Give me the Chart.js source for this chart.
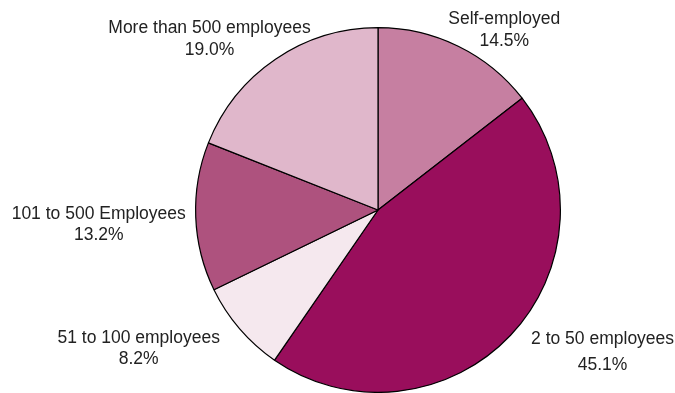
<!DOCTYPE html>
<html>
<head>
<meta charset="utf-8">
<script src="https://cdn.jsdelivr.net/npm/chart.js@4/dist/chart.umd.min.js"></script>
<style>
html,body{margin:0;padding:0;background:#fff;}
#wrap{width:675px;height:393px;position:relative;}
</style>
</head>
<body>
<div id="wrap"><canvas id="c" width="675" height="393"></canvas></div>
<script>
const categories = ["Self-employed", "2 to 50 employees", "51 to 100 employees", "101 to 500 Employees", "More than 500 employees"];
const shares = [14.5, 45.1, 8.2, 13.2, 19.0];
const valueLabels = ["14.5%", "45.1%", "8.2%", "13.2%", "19.0%"];
const sliceColors = ["#C67FA1", "#990E5C", "#F5E8EE", "#AE527E", "#E0B7CB"];

// label offsets (px) from the point on the slice rim at the slice's mid angle
const labelOffsets = [[46, -16], [92, 17], [-101, 20], [-97, 8], [-66, -20]];
const secondLineGap = [22, 26, 21, 21, 22];

const outsideLabels = {
  id: 'outsideLabels',
  afterDatasetsDraw(chart) {
    const ctx = chart.ctx;
    const meta = chart.getDatasetMeta(0);
    ctx.save();
    ctx.fillStyle = '#222';
    ctx.font = '17.5px "Liberation Sans", Arial, sans-serif';
    ctx.textAlign = 'center';
    ctx.textBaseline = 'middle';
    meta.data.forEach((arc, i) => {
      const p = arc.getProps(['x', 'y', 'startAngle', 'endAngle', 'outerRadius'], true);
      const mid = (p.startAngle + p.endAngle) / 2;
      const rx = p.x + Math.cos(mid) * p.outerRadius;
      const ry = p.y + Math.sin(mid) * p.outerRadius;
      const cx = rx + labelOffsets[i][0];
      const cy = ry + labelOffsets[i][1];
      const g = secondLineGap[i];
      ctx.fillText(categories[i], cx, cy - g / 2);
      ctx.fillText(valueLabels[i], cx, cy + g / 2);
    });
    ctx.restore();
  }
};

new Chart(document.getElementById('c'), {
  type: 'pie',
  data: {
    labels: categories,
    datasets: [{
      data: shares,
      backgroundColor: sliceColors,
      borderColor: '#000',
      borderWidth: 1.2
    }]
  },
  options: {
    responsive: false,
    animation: false,
    rotation: 0,
    layout: { padding: { left: 194, right: 113, top: 27, bottom: 0 } },
    plugins: {
      legend: { display: false },
      tooltip: { enabled: false }
    }
  },
  plugins: [outsideLabels]
});
</script>
</body>
</html>
